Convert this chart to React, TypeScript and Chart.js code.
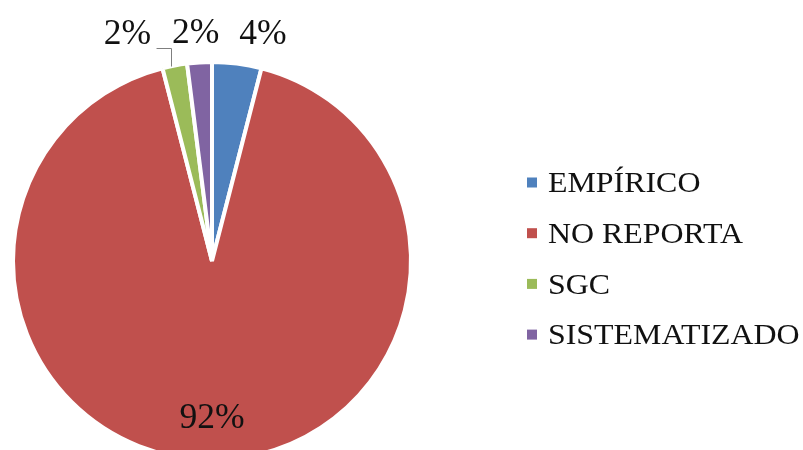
import React, { useEffect, useRef } from "react";
import { Chart, registerables } from "chart.js";

Chart.register(...registerables);

const categories = ["EMPÍRICO", "NO REPORTA", "SGC", "SISTEMATIZADO"];
const values = [4, 92, 2, 2];
const percentLabels = ["4%", "92%", "2%", "2%"];
const colors = ["#4F81BD", "#C0504D", "#9BBB59", "#8064A2"];

// label placement: angle offset (deg) relative to slice middle, and radius factor
const labelAngleShift = [5.5, 0, -9.7, -0.5];
const labelRadiusFactor = [1.165, 0.79, 1.212, 1.145];

const FONT = '"Liberation Serif", "Times New Roman", serif';

const overlayPlugin = {
  id: "overlay",
  afterDraw(chart: any) {
    const ctx = chart.ctx;
    const meta = chart.getDatasetMeta(0);
    ctx.save();
    // percentage labels
    ctx.fillStyle = "#111";
    ctx.font = `35.5px ${FONT}`;
    ctx.textAlign = "center";
    ctx.textBaseline = "middle";
    meta.data.forEach((arc: any, i: number) => {
      const p = arc.getProps(["x", "y", "startAngle", "endAngle", "outerRadius"], true);
      const mid = (p.startAngle + p.endAngle) / 2 + (labelAngleShift[i] * Math.PI) / 180;
      const r = p.outerRadius * labelRadiusFactor[i];
      const lx = p.x + Math.cos(mid) * r;
      const ly = p.y + Math.sin(mid) * r;
      ctx.fillText(percentLabels[i], lx, ly);
      if (i === 2) {
        // leader line from slice edge to label
        const sm = (p.startAngle + p.endAngle) / 2;
        const ex = p.x + Math.cos(sm) * p.outerRadius - 3.5;
        const ey = p.y + Math.sin(sm) * p.outerRadius;
        const hy = Math.round(ly + 13) + 0.5;
        ctx.strokeStyle = "#7f7f7f";
        ctx.lineWidth = 1;
        ctx.beginPath();
        ctx.moveTo(Math.round(ex) + 0.5, ey + 1);
        ctx.lineTo(Math.round(ex) + 0.5, hy);
        ctx.lineTo(lx + 29, hy);
        ctx.stroke();
      }
    });
    // legend
    ctx.textAlign = "left";
    ctx.font = `29px ${FONT}`;
    categories.forEach((c, i) => {
      const cy = 182.5 + i * 50.7;
      ctx.fillStyle = colors[i];
      ctx.fillRect(527, cy - 5, 10, 10);
      ctx.fillStyle = "#111";
      ctx.save();
      ctx.translate(548, cy + 2);
      ctx.scale(1.1, 1);
      ctx.fillText(c, 0, 0);
      ctx.restore();
    });
    ctx.restore();
  },
};

export default function App() {
  const ref = useRef<HTMLCanvasElement>(null);
  useEffect(() => {
    if (!ref.current) return;
    const chart = new Chart(ref.current, {
      type: "pie",
      data: {
        labels: categories,
        datasets: [
          {
            data: values,
            backgroundColor: colors,
            borderColor: "#ffffff",
            borderWidth: 4,
          },
        ],
      },
      options: {
        responsive: false,
        animation: false,
        layout: { padding: { left: 11, top: 60, right: 390, bottom: 8 } },
        plugins: {
          legend: { display: false },
          tooltip: { enabled: false },
        },
      },
      plugins: [overlayPlugin],
    });
    return () => chart.destroy();
  }, []);
  return (
    <div
      style={{
        position: "fixed",
        left: 0,
        top: 0,
        width: 803,
        height: 450,
        overflow: "hidden",
        background: "#fff",
      }}
    >
      <canvas ref={ref} width={803} height={470} style={{ width: 803, height: 470 }} />
    </div>
  );
}
